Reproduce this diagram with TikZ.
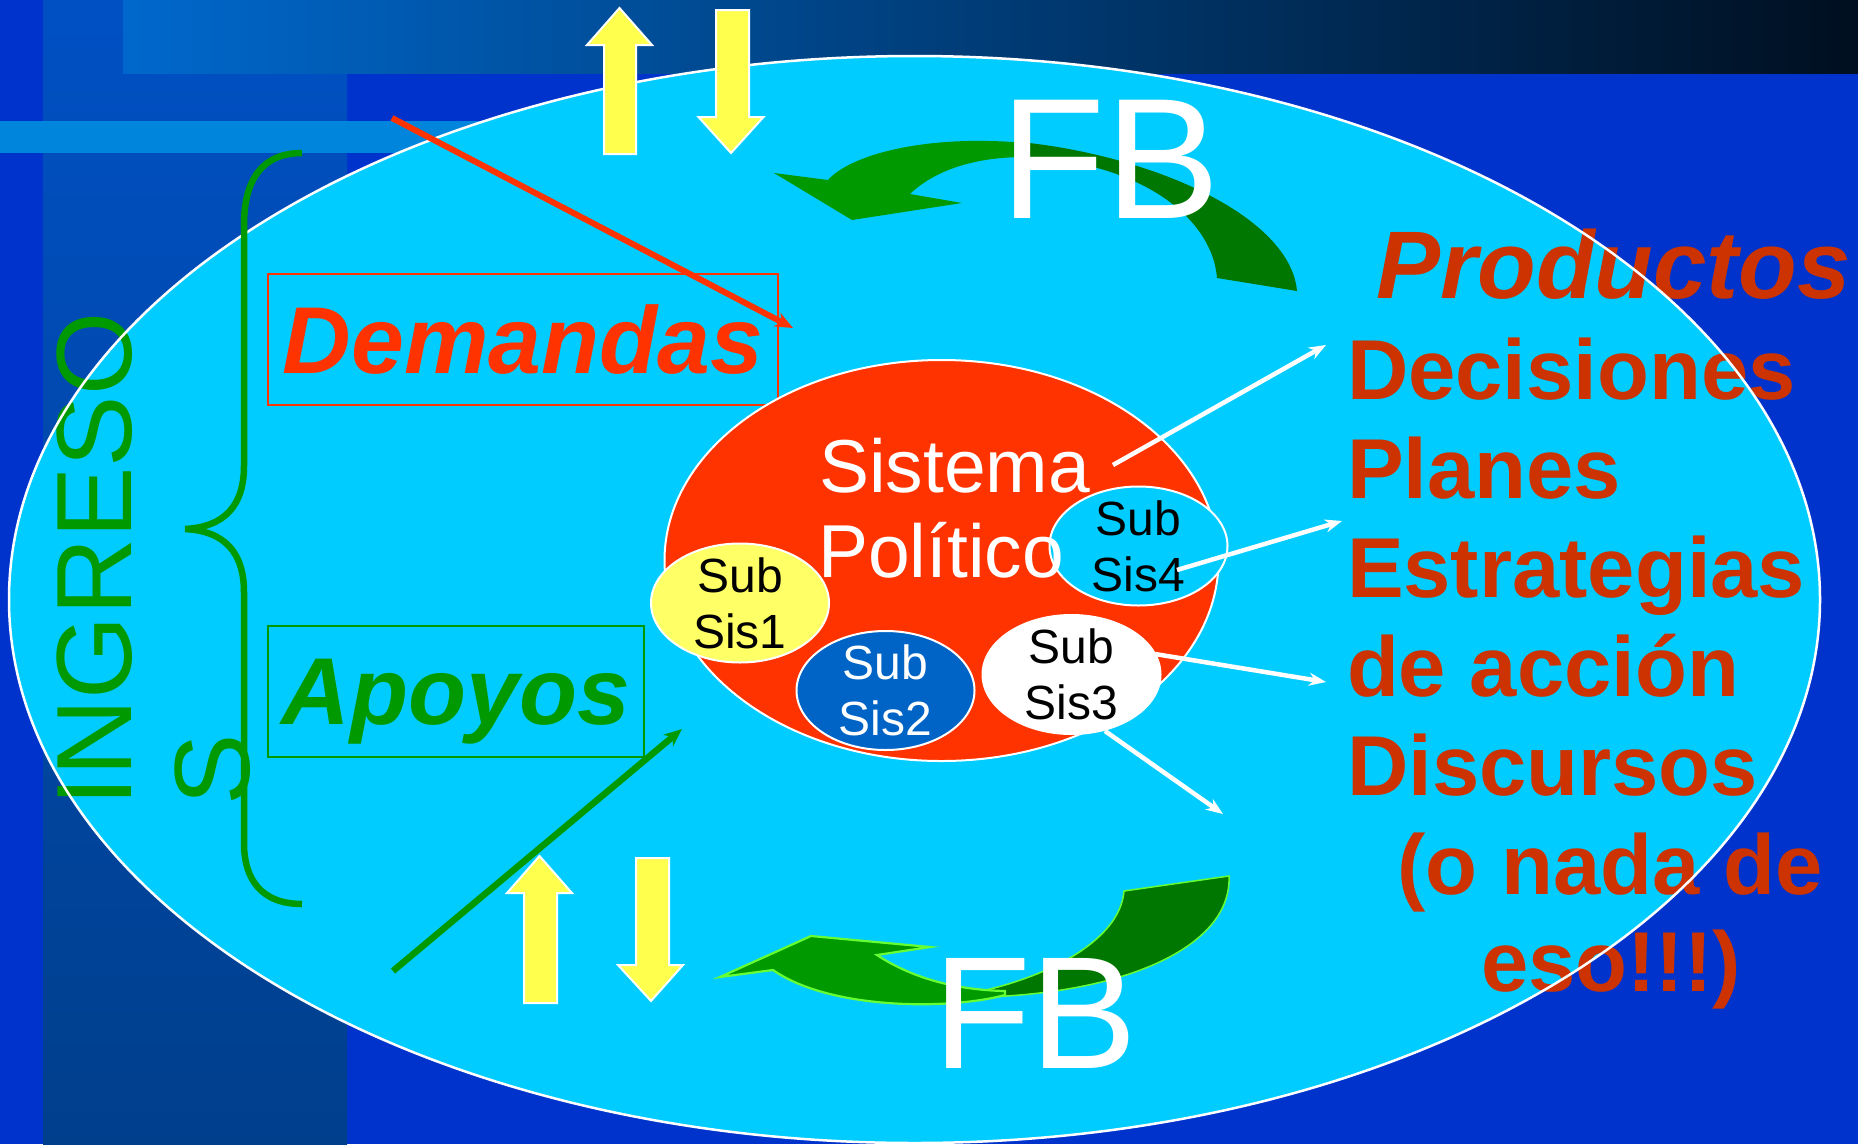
\documentclass[tikz,border=0pt]{standalone}
\usepackage{fontspec}
\setmainfont{Liberation Sans}
\usetikzlibrary{arrows.meta,shapes.geometric}
\definecolor{bgblue}{HTML}{0033CC}
\definecolor{stripetop}{HTML}{0050C4}
\definecolor{stripebot}{HTML}{003F8C}
\definecolor{topA}{HTML}{0068CC}
\definecolor{topB}{HTML}{003C78}
\definecolor{topC}{HTML}{000F20}
\definecolor{lightstrip}{HTML}{0085DD}
\definecolor{cyanfill}{HTML}{00CCFF}
\definecolor{redor}{HTML}{FF3300}
\definecolor{darkor}{HTML}{CC3300}
\definecolor{grn}{HTML}{009900}
\definecolor{dgrn}{HTML}{007700}
\definecolor{lgrn}{HTML}{66FF33}
\definecolor{yel}{HTML}{FFFF4D}
\definecolor{subyel}{HTML}{FFFF66}
\definecolor{subblue}{HTML}{0063C6}
\newcommand\myfs[2]{\fontsize{#1bp}{#2bp}\selectfont}
\begin{document}
\begin{tikzpicture}[x=1bp,y=-1bp,
  txt/.style={inner sep=0pt,outer sep=0pt},
  boxnode/.style={line width=1.8bp,inner sep=0pt,minimum height=131bp,text depth=0pt,font=\myfs{95}{95}\bfseries\itshape},
  subell/.style={ellipse,draw=white,line width=2bp,minimum width=178bp,minimum height=119bp,inner sep=0pt},
  subtxt/.style={txt,align=center,font=\myfs{48}{56}},
  prodline/.style={txt,anchor=base west,font=\myfs{85}{85}\bfseries,text=darkor},
  yarrow/.style={fill=yel,draw=white,line width=2bp,line join=miter},
  outarrow/.style={draw=white,line width=4.5bp,-{Stealth[length=17bp,width=13bp]}},
  fbtxt/.style={txt,anchor=base west,text=white}
]
\useasboundingbox (0,0) rectangle (1858,1144);
% background
\fill[bgblue] (0,0) rectangle (1858,1144);
\shade[top color=stripetop,bottom color=stripebot] (43,0) rectangle (347,1144);
\shade[left color=topA,middle color=topB,right color=topC] (123,0) rectangle (1858,73);
\fill[lightstrip] (0,121) rectangle (600,153);
% main ellipse
\path[fill=cyanfill] (914.5,599.5) ellipse [x radius=905.5,y radius=543.5];
% texts under the border
\node[txt,anchor=base west,rotate=90,font=\myfs{107}{107},text=grn] (ingreso) at (131,806) {INGRESO};
\node[txt,anchor=base west,rotate=90,font=\myfs{107}{107},text=grn] (ingresoS) at (249,805) {S};
\node[txt,anchor=base west,font=\myfs{96}{96}\bfseries\itshape,text=darkor] (prod) at (1376,298) {Productos};
\node[prodline] (dec) at (1347,399) {Decisiones};
\node[prodline] (pla) at (1347,498) {Planes};
\node[prodline] (est) at (1347,597) {Estrategias};
\node[prodline] (acc) at (1347,696) {de acción};
\node[prodline] (dis) at (1347,795) {Discursos};
\node[prodline,anchor=base] (nada) at (1610,894) {(o nada de};
\node[prodline,anchor=base] (eso) at (1611,991) {eso!!!)};
% border
\draw[white,line width=2.5bp] (914.5,599.5) ellipse [x radius=905.5,y radius=543.5];
% brace
\draw[grn,line width=6.5bp] (302,153) .. controls (262,153) and (244,180) .. (244,225) -- (244,466)
  .. controls (244,505) and (225,527) .. (185,529) .. controls (225,531) and (244,553) .. (244,592)
  -- (244,843) .. controls (244,880) and (262,904) .. (302,904);
% boxes
\node[boxnode,draw=redor,text=redor,minimum width=510bp] (dem) at (523,339.5) {Demandas};
\node[boxnode,draw=grn,text=grn,minimum width=376bp] (apo) at (456,691.5) {Apoyos};
% yellow arrows
\path[yarrow] (619.5,8) -- (652,45) -- (636,45) -- (636,154) -- (604,154) -- (604,45) -- (587,45) -- cycle;
\path[yarrow] (716,10) -- (749,10) -- (749,117) -- (763.5,117) -- (731,153) -- (698.5,117) -- (716,117) -- cycle;
\path[yarrow] (539.5,856) -- (572,893) -- (557,893) -- (557,1003) -- (524,1003) -- (524,893) -- (507,893) -- cycle;
\path[yarrow] (636,858) -- (669,858) -- (669,965) -- (683,965) -- (651,1001) -- (618,965) -- (636,965) -- cycle;
% top feedback arrow
\fill[dgrn] (1020,142) .. controls (1150,155) and (1290,215) .. (1297,291) -- (1217,278)
  .. controls (1212,215) and (1135,160) .. (1020,157) -- cycle;
\fill[grn] (774,173) -- (828,180) .. controls (850,155) and (925,134) .. (1025,143) -- (1025,157)
  .. controls (975,157) and (935,170) .. (910,194) -- (962,203) -- (852,220) -- cycle;
% bottom feedback arrow
\filldraw[fill=dgrn,draw=lgrn,line width=1.5bp] (1124,891) -- (1229,876) .. controls (1232,945) and (1130,992) .. (986,997)
  -- (986,990) .. controls (1050,975) and (1120,940) .. (1124,891) -- cycle;
\filldraw[fill=grn,draw=lgrn,line width=2.2bp,line join=miter] (720,977) -- (811,936) -- (930,947) -- (877,955)
  .. controls (915,980) and (960,990) .. (1005,991) -- (1005,995)
  .. controls (950,1010) and (830,1010) .. (773,970) -- cycle;
% FB labels
\node[fbtxt,font=\myfs{172}{172}] (fbtop) at (1000,218) {FB};
\node[fbtxt,font=\myfs{160}{160}] (fbbot) at (933,1068) {FB};
% political system
\node[ellipse,fill=redor,draw=white,line width=2bp,minimum width=554bp,minimum height=401bp,inner sep=0pt] (sp) at (941.5,560.5) {};
\node[subell,fill=subyel] (s1) at (740,603) {};
\node[subell,fill=subblue] (s2) at (885.5,690.5) {};
\node[subell,fill=white] (s3) at (1071.5,674.5) {};
\node[subell,fill=cyanfill] (s4) at (1138.5,546) {};
\node[subtxt,text=black] (t1) at (s1.center) {Sub\\Sis1};
\node[subtxt,text=white] (t2) at (s2.center) {Sub\\Sis2};
\node[subtxt,text=black] (t3) at (s3.center) {Sub\\Sis3};
\node[subtxt,text=black] (t4) at (s4.center) {Sub\\Sis4};
\node[txt,anchor=base west,font=\myfs{75}{75},text=white] (sist) at (819,492) {Sistema};
\node[txt,anchor=base west,font=\myfs{75}{75},text=white] (poli) at (818,577) {Político};
% output arrows
\coordinate (o1s) at (1113,465); \coordinate (o1e) at (1326,345);
\coordinate (o2s) at (1177,570); \coordinate (o2e) at (1342,521);
\coordinate (o3s) at (1155,654); \coordinate (o3e) at (1326,682);
\coordinate (o4s) at (1105,731); \coordinate (o4e) at (1223,814);
\draw[outarrow] (o1s) -- (o1e);
\draw[outarrow] (o2s) -- (o2e);
\draw[outarrow] (o3s) -- (o3e);
\draw[outarrow] (o4s) -- (o4e);
% input arrows
\coordinate (dS) at (392,118); \coordinate (dE) at (793,328);
\coordinate (aS) at (393,971); \coordinate (aE) at (682,729);
\draw[redor,line width=6bp,-{Stealth[length=18bp,width=15bp]}] (dS) -- (dE);
\draw[grn,line width=6.5bp,-{Stealth[length=18bp,width=15bp]}] (aS) -- (aE);
\end{tikzpicture}
\end{document}
